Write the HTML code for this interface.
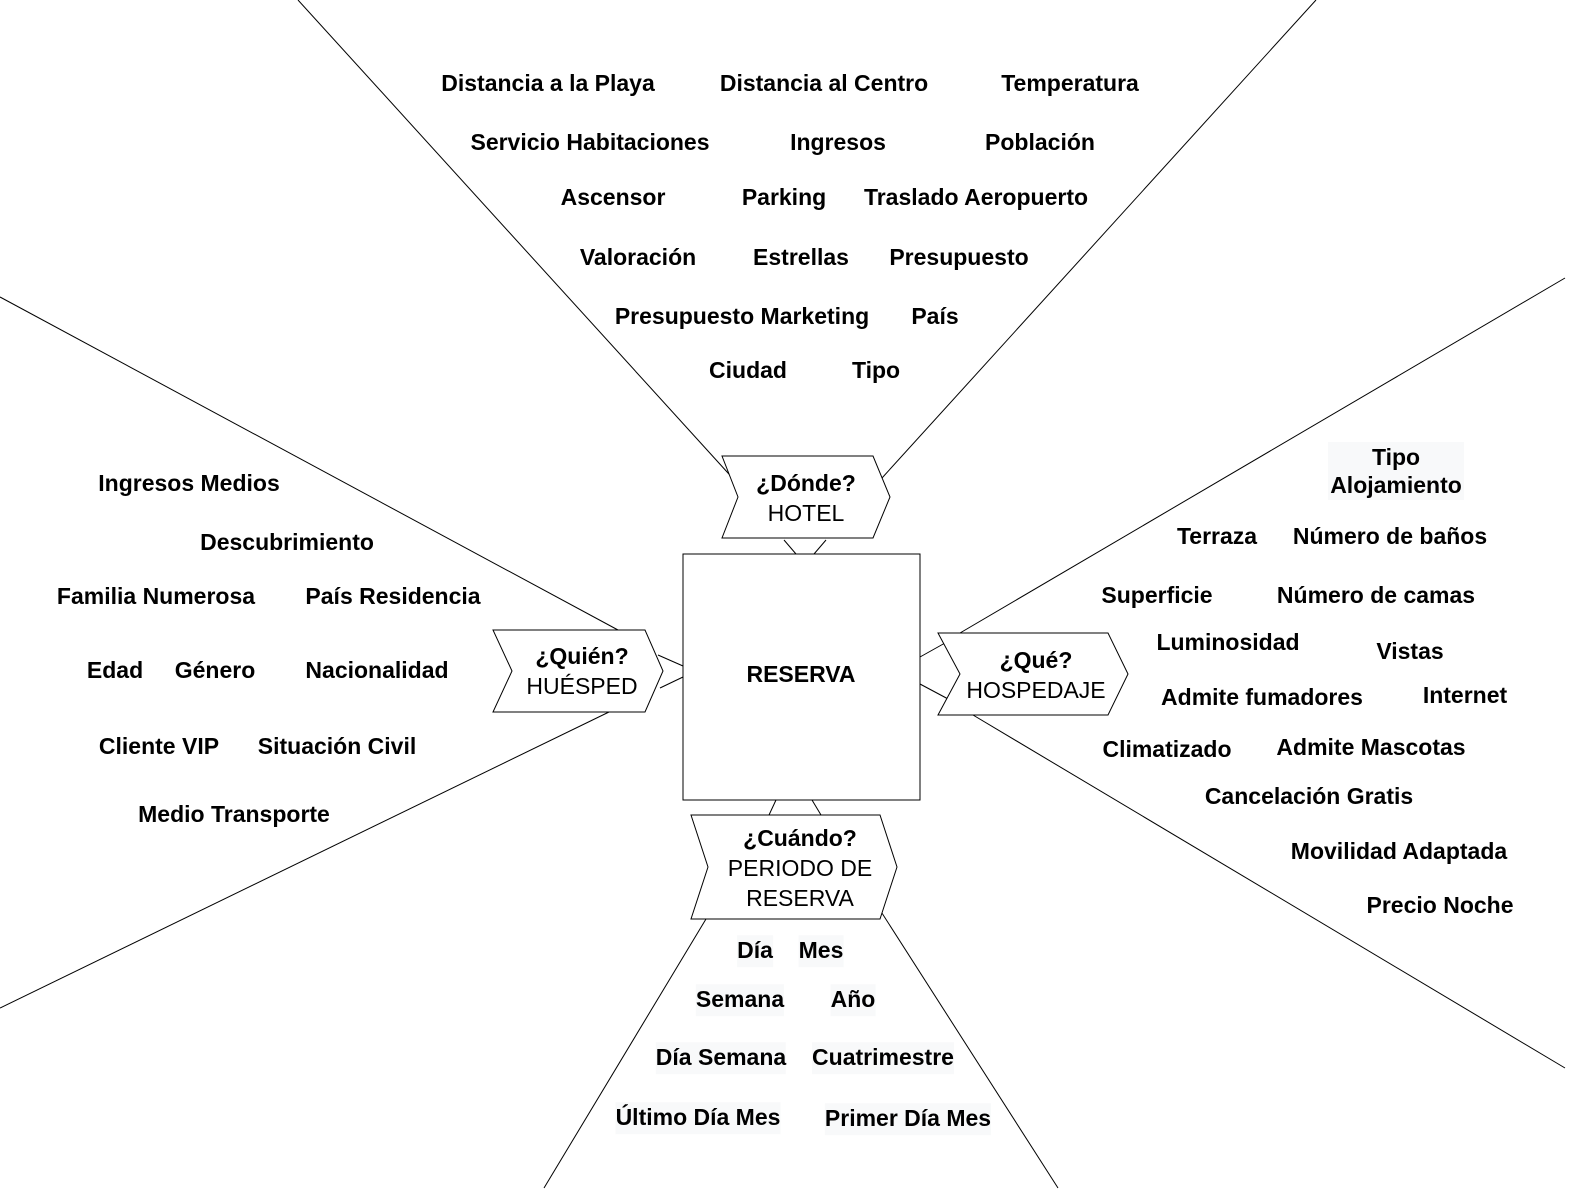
<!DOCTYPE html>
<html><head><meta charset="utf-8"><style>
body{margin:0;width:1585px;height:1204px;background:#fff;position:relative;overflow:hidden;font-family:"Liberation Sans",Arial,sans-serif}
svg{position:absolute;left:0;top:0}
.t{position:absolute;transform:translate(-50%,-50%);font-weight:bold;font-size:23px;white-space:nowrap;color:#000;line-height:1.2}
.g{background:#f8f9fa;padding:2px 0}
.n{position:absolute;transform:translate(-50%,-50%);font-size:23px;text-align:center;white-space:nowrap;line-height:30px}
</style></head><body>
<svg width="1585" height="1204" fill="none" stroke="#000" stroke-width="1">
<line x1="298" y1="0" x2="738" y2="484"/><line x1="1316" y1="0" x2="882" y2="478"/>
<line x1="784" y1="540" x2="796" y2="554"/><line x1="826" y1="540" x2="814" y2="554"/>
<line x1="0" y1="297" x2="618" y2="630"/><line x1="0" y1="1008" x2="609" y2="712"/>
<line x1="658" y1="655" x2="683" y2="666"/><line x1="660" y1="688" x2="683" y2="677"/>
<line x1="1565" y1="278" x2="960" y2="633"/><line x1="1565" y1="1068" x2="973" y2="715"/>
<line x1="920" y1="657" x2="945" y2="643"/><line x1="920" y1="684" x2="950" y2="700"/>
<line x1="544" y1="1188" x2="706" y2="919"/><line x1="1058" y1="1188" x2="880" y2="910"/>
<line x1="776" y1="800" x2="769" y2="815"/><line x1="812" y1="800" x2="821" y2="815"/>
<rect x="683" y="554" width="237" height="246" fill="#fff"/>
<polygon points="722,456 873,456 890,497 873,538 722,538 738,497" fill="#fff"/>
<polygon points="493,630 645,630 663,671 645,712 493,712 512,671" fill="#fff"/>
<polygon points="938,633 1108,633 1128,674 1108,715 938,715 960,674" fill="#fff"/>
<polygon points="691,815 880,815 897,867 880,919 691,919 708,867" fill="#fff"/>
</svg>
<div class="t" style="left:801px;top:675px">RESERVA</div>
<div class="n" style="left:806px;top:498px"><b>¿Dónde?</b><br>HOTEL</div>
<div class="n" style="left:582px;top:671px"><b>¿Quién?</b><br>HUÉSPED</div>
<div class="n" style="left:1036px;top:675px"><b>¿Qué?</b><br>HOSPEDAJE</div>
<div class="n" style="left:800px;top:868px"><b>¿Cuándo?</b><br>PERIODO DE<br>RESERVA</div>

<div class="t" style="left:548px;top:84px">Distancia a la Playa</div>
<div class="t" style="left:824px;top:84px">Distancia al Centro</div>
<div class="t" style="left:1070px;top:84px">Temperatura</div>
<div class="t" style="left:590px;top:143px">Servicio Habitaciones</div>
<div class="t" style="left:838px;top:143px">Ingresos</div>
<div class="t" style="left:1040px;top:143px">Población</div>
<div class="t" style="left:613px;top:198px">Ascensor</div>
<div class="t" style="left:784px;top:198px">Parking</div>
<div class="t" style="left:976px;top:198px">Traslado Aeropuerto</div>
<div class="t" style="left:638px;top:258px">Valoración</div>
<div class="t" style="left:801px;top:258px">Estrellas</div>
<div class="t" style="left:959px;top:258px">Presupuesto</div>
<div class="t" style="left:742px;top:317px">Presupuesto Marketing</div>
<div class="t" style="left:935px;top:317px">País</div>
<div class="t" style="left:748px;top:371px">Ciudad</div>
<div class="t" style="left:876px;top:371px">Tipo</div>

<div class="t" style="left:189px;top:484px">Ingresos Medios</div>
<div class="t" style="left:287px;top:543px">Descubrimiento</div>
<div class="t" style="left:156px;top:597px">Familia Numerosa</div>
<div class="t" style="left:393px;top:597px">País Residencia</div>
<div class="t" style="left:115px;top:671px">Edad</div>
<div class="t" style="left:215px;top:671px">Género</div>
<div class="t" style="left:377px;top:671px">Nacionalidad</div>
<div class="t" style="left:159px;top:747px">Cliente VIP</div>
<div class="t" style="left:337px;top:747px">Situación Civil</div>
<div class="t" style="left:234px;top:815px">Medio Transporte</div>

<div class="t g" style="left:1396px;top:471px;text-align:center;padding:1px 0;width:136px;line-height:28px">Tipo<br>Alojamiento</div>
<div class="t" style="left:1217px;top:537px">Terraza</div>
<div class="t" style="left:1390px;top:537px">Número de baños</div>
<div class="t" style="left:1157px;top:596px">Superficie</div>
<div class="t" style="left:1376px;top:596px">Número de camas</div>
<div class="t" style="left:1228px;top:643px">Luminosidad</div>
<div class="t" style="left:1410px;top:652px">Vistas</div>
<div class="t" style="left:1262px;top:698px">Admite fumadores</div>
<div class="t" style="left:1465px;top:696px">Internet</div>
<div class="t" style="left:1167px;top:750px">Climatizado</div>
<div class="t" style="left:1371px;top:748px">Admite Mascotas</div>
<div class="t" style="left:1309px;top:797px">Cancelación Gratis</div>
<div class="t" style="left:1399px;top:852px">Movilidad Adaptada</div>
<div class="t" style="left:1440px;top:906px">Precio Noche</div>

<div class="t g" style="left:755px;top:951px">Día</div>
<div class="t g" style="left:821px;top:951px">Mes</div>
<div class="t g" style="left:740px;top:1000px">Semana</div>
<div class="t g" style="left:853px;top:1000px">Año</div>
<div class="t g" style="left:721px;top:1058px">Día Semana</div>
<div class="t g" style="left:883px;top:1058px">Cuatrimestre</div>
<div class="t g" style="left:698px;top:1118px">Último Día Mes</div>
<div class="t g" style="left:908px;top:1119px">Primer Día Mes</div>
</body></html>
